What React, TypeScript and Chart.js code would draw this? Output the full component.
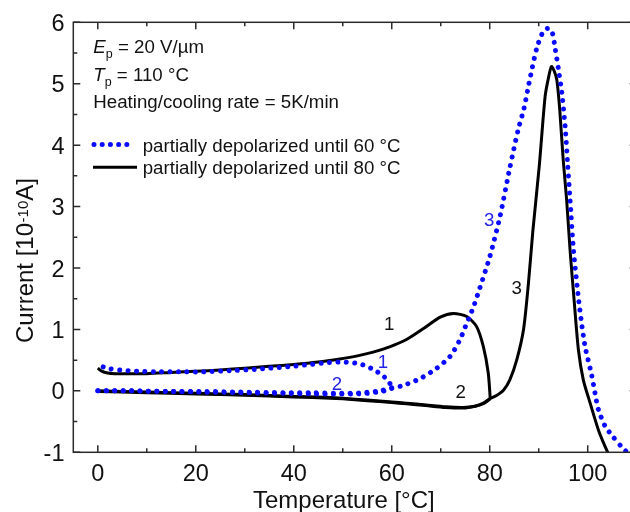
import React, { useEffect, useRef } from 'react';
import { Chart, registerables } from 'chart.js';

Chart.register(...registerables);

const W = 650;
const H = 512;
const FONT = '"Liberation Sans", Arial, Helvetica, sans-serif';
const BLUE = '#0a0aff';
const BLUE_TEXT = '#2323e6';

// Axis ranges and tick labels
const xRange = [-5, 110];
const yRange = [-1, 6];
const xTickValues = [0, 20, 40, 60, 80, 100];
const yTickValues = [-1, 0, 1, 2, 3, 4, 5, 6];

// Black curve (partially depolarized until 80 °C)
const blackHeat1X = [0, 0.8, 2, 3.5, 6, 10, 15, 20, 25, 30, 35, 40, 45, 49.4, 53, 56.2, 59.7, 63.1, 66.4, 69.9, 72.6, 75.3, 77.3, 78.7, 79.7, 80.1];
const blackHeat1Y = [0.37, 0.32, 0.29, 0.28, 0.28, 0.28, 0.3, 0.32, 0.34, 0.37, 0.4, 0.43, 0.47, 0.52, 0.57, 0.63, 0.72, 0.84, 1.01, 1.2, 1.26, 1.21, 1.05, 0.72, 0.29, -0.12];
const blackCoolX = [80.1, 78.7, 77, 74.6, 71, 67, 63, 60, 55, 50, 45, 40, 30, 20, 10, 0];
const blackCoolY = [-0.13, -0.21, -0.25, -0.28, -0.27, -0.24, -0.21, -0.19, -0.16, -0.13, -0.11, -0.1, -0.07, -0.05, -0.03, -0.01];
const blackHeat2X = [0, 10, 20, 30, 40, 45, 50, 55, 60, 63, 67, 71, 74.6, 77, 78.7, 80, 81.3, 82.8, 84.1, 85.5, 86.9, 87.9, 88.8, 90.1, 91.3, 92.0, 92.6, 93.2, 93.7, 94.3, 95.0, 95.7, 96.4, 97.2, 98.1, 99.1, 100.5, 102.2, 103.9, 104.6];
const blackHeat2Y = [0, -0.02, -0.04, -0.06, -0.09, -0.1, -0.12, -0.15, -0.18, -0.2, -0.23, -0.26, -0.27, -0.25, -0.2, -0.13, -0.08, 0.01, 0.18, 0.5, 1.0, 1.75, 2.6, 3.65, 4.79, 5.1, 5.28, 5.2, 5.06, 4.57, 3.76, 3.11, 2.29, 1.5, 0.67, 0.18, -0.2, -0.64, -0.97, -1.08];

// Blue dotted curve (partially depolarized until 60 °C)
const blueHeat1X = [1.1, 2.5, 4.5, 8, 12, 18, 21.5, 27, 32, 35.2, 40, 43.3, 47, 50, 53.5, 56.2, 58.3, 59.5, 60];
const blueHeat1Y = [0.39, 0.36, 0.34, 0.32, 0.31, 0.31, 0.31, 0.33, 0.35, 0.37, 0.4, 0.43, 0.46, 0.47, 0.44, 0.35, 0.24, 0.14, 0.04];
const blueCoolX = [60, 58.5, 57, 55, 52, 48, 44, 38, 30, 22, 14, 7, 0];
const blueCoolY = [0.04, 0, -0.02, -0.04, -0.05, -0.05, -0.05, -0.04, -0.03, -0.02, -0.01, 0, 0];
const blueHeat2X = [0, 7, 14, 22, 30, 38, 44, 50, 54, 57.6, 60, 62, 65.8, 69.2, 71.9, 73.9, 75.3, 76.7, 78, 80, 82.1, 84.1, 85.8, 87.0, 88.0, 89.6, 90.9, 91.8, 92.7, 93.4, 94.0, 94.7, 95.4, 95.9, 96.4, 97.1, 98.2, 99.1, 99.6, 100.8, 101.5, 102.2, 103.6, 105.2, 106.9, 108.3];
const blueHeat2Y = [0, 0, -0.01, -0.01, -0.02, -0.03, -0.03, -0.04, -0.03, 0, 0.05, 0.08, 0.2, 0.37, 0.56, 0.83, 1.1, 1.37, 1.68, 2.18, 2.84, 3.63, 4.25, 4.6, 5.0, 5.58, 5.85, 5.9, 5.85, 5.55, 5.25, 4.86, 4.3, 3.7, 3.11, 2.29, 1.45, 0.9, 0.67, 0.26, -0.04, -0.31, -0.58, -0.75, -0.91, -1.02];

// Segment number labels [x, y, text]
const blueLabels: [number, number, string][] = [
  [79.9, 2.78, '3'],
  [58.2, 0.475, '1'],
  [48.8, 0.12, '2'],
];
const blackLabels: [number, number, string][] = [
  [59.5, 1.09, '1'],
  [74.1, -0.01, '2'],
  [85.5, 1.67, '3'],
];

const legendLabels = ['partially depolarized until 60 °C', 'partially depolarized until 80 °C'];

function pts(xs: number[], ys: number[]) {
  return xs.map((x, i) => ({ x, y: ys[i] }));
}

const blackStyle = {
  borderColor: '#000',
  borderWidth: 3,
  pointRadius: 0,
  showLine: true,
  tension: 0.25,
  fill: false,
};
const blueStyle = {
  borderColor: BLUE,
  borderWidth: 5,
  borderDash: [0.01, 8.4],
  borderCapStyle: 'round' as const,
  pointRadius: 0,
  showLine: true,
  tension: 0.25,
  fill: false,
};

const decorPlugin = {
  id: 'decor',
  afterDatasetsDraw(chart: any) {
    const { ctx, chartArea } = chart;
    const xs = chart.scales.x;
    const ys = chart.scales.y;
    const { left, right, top, bottom } = chartArea;
    ctx.save();
    // frame
    ctx.strokeStyle = '#2a2a2a';
    ctx.lineWidth = 1.5;
    ctx.strokeRect(left, top, right - left, bottom - top);
    // x ticks (major from labels, minor midway)
    const xStep = xTickValues[1] - xTickValues[0];
    for (let v = xTickValues[0]; v < xRange[1]; v += xStep / 2) {
      const major = xTickValues.includes(v);
      const len = major ? 7 : 4;
      const px = xs.getPixelForValue(v);
      ctx.beginPath();
      ctx.moveTo(px, bottom);
      ctx.lineTo(px, bottom - len);
      ctx.moveTo(px, top);
      ctx.lineTo(px, top + len);
      ctx.stroke();
    }
    const yStep = yTickValues[1] - yTickValues[0];
    for (let v = yTickValues[0]; v <= yRange[1] + 1e-9; v += yStep / 2) {
      const major = Math.abs(v - Math.round(v)) < 1e-9;
      const len = major ? 7 : 4;
      const py = ys.getPixelForValue(v);
      ctx.beginPath();
      ctx.moveTo(left, py);
      ctx.lineTo(left + len, py);
      ctx.moveTo(right, py);
      ctx.lineTo(right - len, py);
      ctx.stroke();
    }
    // tick labels
    ctx.fillStyle = '#111';
    ctx.font = `23.5px ${FONT}`;
    ctx.textAlign = 'center';
    ctx.textBaseline = 'alphabetic';
    xTickValues.forEach((v) => {
      ctx.fillText(String(v), xs.getPixelForValue(v), 481);
    });
    ctx.textAlign = 'right';
    yTickValues.forEach((v) => {
      ctx.fillText(String(v), 64.5, ys.getPixelForValue(v) + 8.5);
    });
    // x title
    ctx.font = `24px ${FONT}`;
    ctx.textAlign = 'left';
    ctx.fillText('Temperature [°C]', 253, 507.5);
    // y title (rotated with superscript)
    ctx.save();
    ctx.translate(33, 343);
    ctx.rotate(-Math.PI / 2);
    ctx.font = `24px ${FONT}`;
    const t1 = 'Current [10';
    ctx.fillText(t1, 0, 0);
    let w = ctx.measureText(t1).width;
    ctx.font = `15px ${FONT}`;
    ctx.fillText('-10', w + 0.5, -5.5);
    w += ctx.measureText('-10').width + 0.5;
    ctx.font = `24px ${FONT}`;
    ctx.fillText('A]', w, 0);
    ctx.restore();

    // annotation block
    const drawSubLine = (sym: string, rest: string, x: number, y: number) => {
      ctx.font = `italic 18.7px ${FONT}`;
      ctx.fillText(sym, x, y);
      let cx = x + ctx.measureText(sym).width;
      ctx.font = `12.5px ${FONT}`;
      ctx.fillText('p', cx, y + 5);
      cx += ctx.measureText('p').width;
      ctx.font = `18.7px ${FONT}`;
      ctx.fillText(rest, cx, y);
    };
    ctx.fillStyle = '#111';
    ctx.textAlign = 'left';
    drawSubLine('E', ' = 20 V/µm', 93.3, 52.7);
    drawSubLine('T', ' = 110 °C', 93.3, 81);
    ctx.font = `18.7px ${FONT}`;
    ctx.fillText('Heating/cooling rate = 5K/min', 93.3, 108);

    // legend
    ctx.save();
    ctx.strokeStyle = BLUE;
    ctx.lineWidth = 5;
    ctx.lineCap = 'round';
    ctx.setLineDash([0.01, 8.2]);
    ctx.beginPath();
    ctx.moveTo(94, 144.5);
    ctx.lineTo(132, 144.5);
    ctx.stroke();
    ctx.restore();
    ctx.strokeStyle = '#000';
    ctx.lineWidth = 3;
    ctx.beginPath();
    ctx.moveTo(93, 167.3);
    ctx.lineTo(137, 167.3);
    ctx.stroke();
    ctx.fillStyle = '#111';
    ctx.font = `18.7px ${FONT}`;
    ctx.fillText(legendLabels[0], 142.7, 151.7);
    ctx.fillText(legendLabels[1], 142.7, 174);

    // segment labels
    ctx.textAlign = 'center';
    ctx.textBaseline = 'middle';
    ctx.font = `18.7px ${FONT}`;
    ctx.fillStyle = BLUE_TEXT;
    blueLabels.forEach(([x, y, t]) => ctx.fillText(t, xs.getPixelForValue(x), ys.getPixelForValue(y) + 1));
    ctx.fillStyle = '#111';
    blackLabels.forEach(([x, y, t]) => ctx.fillText(t, xs.getPixelForValue(x), ys.getPixelForValue(y) + 1));
    ctx.restore();
  },
};

export default function App() {
  const ref = useRef<HTMLCanvasElement | null>(null);
  useEffect(() => {
    if (!ref.current) return;
    const chart = new Chart(ref.current, {
      type: 'scatter',
      data: {
        datasets: [
          { ...blueStyle, data: pts(blueHeat1X, blueHeat1Y) },
          { ...blueStyle, data: pts(blueCoolX, blueCoolY) },
          { ...blueStyle, data: pts(blueHeat2X, blueHeat2Y) },
          { ...blackStyle, data: pts(blackHeat1X, blackHeat1Y) },
          { ...blackStyle, data: pts(blackCoolX, blackCoolY) },
          { ...blackStyle, data: pts(blackHeat2X, blackHeat2Y) },
        ] as any,
      },
      options: {
        responsive: false,
        animation: false,
        devicePixelRatio: 1,
        layout: { padding: { left: 73.3, top: 22.3, right: W - 636.7, bottom: H - 452.3 } },
        scales: {
          x: { type: 'linear', min: xRange[0], max: xRange[1], display: false },
          y: { type: 'linear', min: yRange[0], max: yRange[1], display: false },
        },
        plugins: { legend: { display: false }, tooltip: { enabled: false } },
        events: [],
      },
      plugins: [decorPlugin],
    });
    return () => chart.destroy();
  }, []);
  return (
    <div style={{ position: 'fixed', left: 0, top: 0, width: 630, height: 512, overflow: 'hidden', background: '#fff' }}>
      <canvas ref={ref} width={W} height={H} style={{ display: 'block', width: W, height: H }} />
    </div>
  );
}
